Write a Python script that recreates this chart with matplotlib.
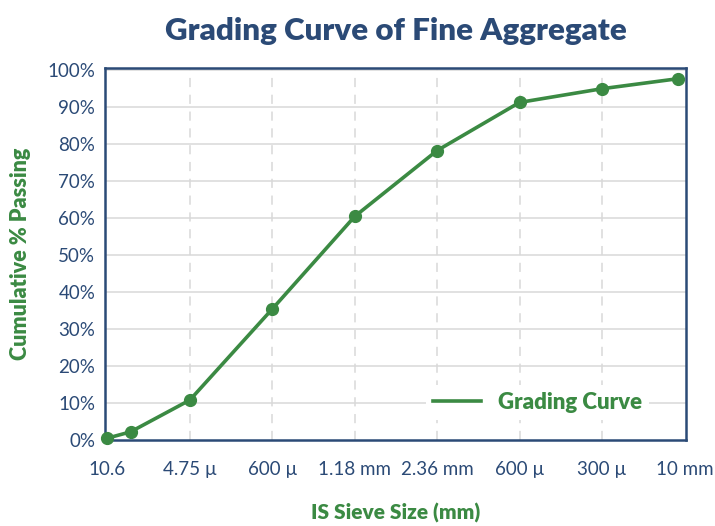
import numpy as np
import matplotlib
matplotlib.use('Agg')
import matplotlib.pyplot as plt
from matplotlib.lines import Line2D

# data
tick_labels = ['10.6', '4.75 \u00b5', '600 \u00b5', '1.18 mm', '2.36 mm', '600 \u00b5', '300 \u00b5', '10 mm']
point_pos = [0, 0.28, 1, 2, 3, 4, 5, 6, 6.92]
passing = [0.5, 2.2, 10.8, 35.4, 60.4, 78.2, 91.2, 94.9, 97.6]

navy = '#2b4a76'
green = '#3b8a43'
grid_c = '#d9d9d9'

plt.rcParams['font.family'] = ['Lato', 'DejaVu Sans']

fig = plt.figure(figsize=(7.15, 5.26), dpi=100)
ax = fig.add_axes([105/715, 1 - 440/526, 581/715, 372/526])

ax.plot(point_pos, passing, color=green, lw=2.6, marker='o', ms=8.5,
        zorder=5, clip_on=False)

ax.set_xlim(-0.03, 7.02)
ax.set_ylim(0, 100.5)
ax.set_xticks(np.arange(len(tick_labels)))
ax.set_xticklabels(tick_labels, fontsize=13.5, color=navy)
ax.set_yticks(np.arange(0, 101, 10))
ax.set_yticklabels([f'{v}%' for v in range(0, 101, 10)], fontsize=13.5, color=navy)
ax.tick_params(length=0, pad=7)
ax.tick_params(axis='x', pad=15)

for v in range(10, 101, 10):
    ax.axhline(v, color=grid_c, lw=1.1, zorder=1)
for x in range(1, 7):
    ax.axvline(x, color=grid_c, lw=1.1, ls=(0, (6, 5)), zorder=1)

for s in ax.spines.values():
    s.set_color(navy)
    s.set_linewidth(1.8)

ax.set_title('Grading Curve of Fine Aggregate', fontsize=22.5, fontweight='heavy',
             color=navy, pad=20)
ax.set_xlabel('IS Sieve Size (mm)', fontsize=15, fontweight='heavy', color=green, labelpad=18)
ax.set_ylabel('Cumulative % Passing', fontsize=15.5, fontweight='heavy', color=green, labelpad=12)

handle = Line2D([], [], color=green, lw=2.6)
leg = ax.legend([handle], ['Grading Curve'], loc='lower right', bbox_to_anchor=(0.955, 0.025),
                frameon=True, fontsize=16, handlelength=2.2, handletextpad=0.75, borderpad=0.3)
leg.get_frame().set_edgecolor('none')
leg.get_frame().set_facecolor('white')
leg.get_frame().set_alpha(1)
for t in leg.get_texts():
    t.set_color(green)
    t.set_fontweight('heavy')

fig.savefig('out.png', dpi=100)
